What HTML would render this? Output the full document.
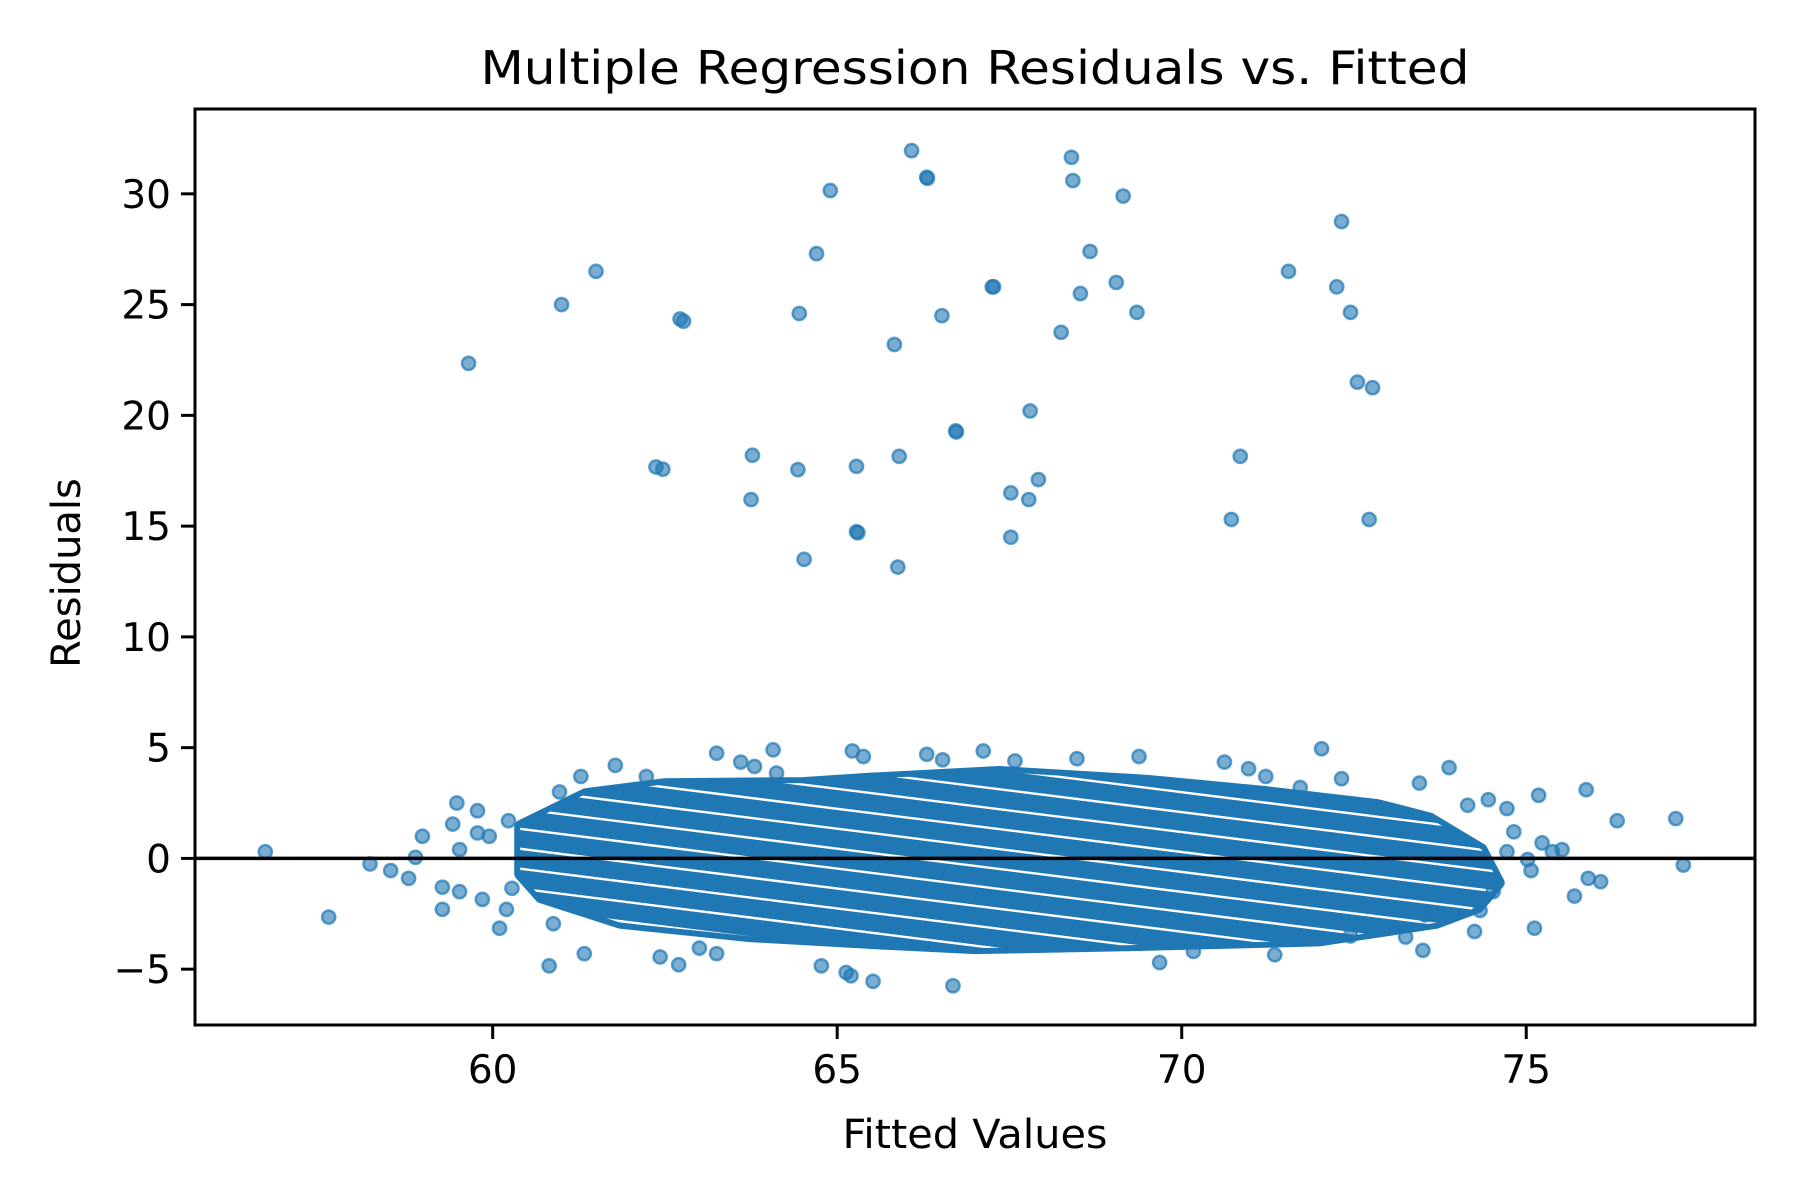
<!DOCTYPE html>
<html><head><meta charset="utf-8"><style>
html,body{margin:0;padding:0;background:#fff;}
svg{display:block;}
text{font-family:"DejaVu Sans","Liberation Sans",sans-serif;fill:#000;}
</style></head><body>
<svg id="chart" width="1800" height="1200" viewBox="0 0 1800 1200" xmlns="http://www.w3.org/2000/svg">
<rect width="1800" height="1200" fill="#fff"/>
<text x="975" y="84" font-size="46" text-anchor="middle" textLength="989" lengthAdjust="spacingAndGlyphs">Multiple Regression Residuals vs. Fitted</text>
<text x="975" y="1148" font-size="40" text-anchor="middle" textLength="265" lengthAdjust="spacingAndGlyphs">Fitted Values</text>
<text x="0" y="0" font-size="40" text-anchor="middle" transform="translate(80,573) rotate(-90)">Residuals</text>
<g id="plot"></g>
<g id="axes"></g>
</svg>
<script>
// ---- data ----
const xTicks = [60, 65, 70, 75];
const yTicks = [-5, 0, 5, 10, 15, 20, 25, 30];
const tickLabelsY = ["\u22125", "0", "5", "10", "15", "20", "25", "30"];
// high outliers (fitted, residual)
const outlierX = [59.65,61.0,61.5,62.72,62.77,62.37,62.47,63.77,63.75,64.45,64.43,64.52,64.7,64.9,65.28,65.28,65.3,65.83,65.88,65.9,66.08,66.3,66.31,66.52,66.72,66.73,67.25,67.27,67.52,67.52,67.78,67.8,67.92,68.25,68.4,68.42,68.53,68.67,69.05,69.15,69.35,70.72,70.85,71.55,72.25,72.32,72.45,72.55,72.77,72.72];
const outlierY = [22.35,25.0,26.5,24.35,24.25,17.67,17.57,18.2,16.2,24.6,17.55,13.5,27.3,30.15,17.7,14.75,14.7,23.2,13.15,18.15,31.95,30.75,30.7,24.5,19.3,19.25,25.8,25.8,16.5,14.5,16.2,20.2,17.1,23.75,31.65,30.6,25.5,27.4,26.0,29.9,24.65,15.3,18.15,26.5,25.8,28.75,24.65,21.5,21.25,15.3];
// scattered points around the main cloud
const edgeX = [56.7,57.62,58.22,58.52,58.78,58.88,58.98,59.27,59.27,59.48,59.42,59.52,59.52,59.78,59.78,59.85,59.95,60.1,60.2,60.28,60.23,60.82,60.88,60.97,61.33,61.28,61.78,62.23,62.43,62.7,63.0,63.25,63.25,63.6,63.8,64.07,64.12,64.77,65.13,65.2,65.22,65.38,65.52,66.3,66.53,66.68,67.12,67.58,68.48,69.38,69.68,70.17,70.62,70.97,71.22,71.35,71.72,72.03,72.32,72.45,73.25,73.5,73.53,73.45,73.88,74.15,74.33,74.25,74.45,74.52,74.72,74.82,74.72,75.12,75.18,75.23,75.38,75.52,75.87,75.9,76.08,75.7,76.32,77.17,77.28,75.02,75.07];
const edgeY = [0.3,-2.65,-0.25,-0.55,-0.9,0.05,1.0,-1.3,-2.3,2.5,1.55,0.4,-1.5,2.15,1.15,-1.85,1.0,-3.15,-2.3,-1.35,1.7,-4.85,-2.95,3.0,-4.3,3.7,4.2,3.7,-4.45,-4.8,-4.05,-4.3,4.75,4.35,4.15,4.9,3.85,-4.85,-5.15,-5.3,4.85,4.6,-5.55,4.7,4.45,-5.75,4.85,4.4,4.5,4.6,-4.7,-4.2,4.35,4.05,3.7,-4.35,3.2,4.95,3.6,-3.5,-3.55,-4.15,-2.55,3.4,4.1,2.4,-2.35,-3.3,2.65,-1.5,2.25,1.2,0.3,-3.15,2.85,0.7,0.3,0.4,3.1,-0.9,-1.05,-1.7,1.7,1.8,-0.3,-0.05,-0.55];
// outline of the dense band of points (fitted, residual)
const cloudX = [60.4,61.35,62.5,64.5,65.5,67.35,69.5,71.2,72.85,73.6,74.35,74.6,74.3,73.7,72.0,69.5,67.0,65.7,63.7,61.85,60.7,60.4];
const cloudY = [1.45,2.9,3.35,3.4,3.6,3.9,3.5,3.0,2.4,1.8,0.4,-1.1,-2.2,-2.9,-3.7,-3.9,-4.05,-3.85,-3.5,-2.9,-1.75,-0.7];
// white gaps between diagonal stripes: residual at fitted = 67
const gapOffsets = [-10.24,-9.34,-8.44,-7.54,-6.64,-5.74,-4.84,-3.94,-3.04,-2.14,-1.24,-0.34,0.56,1.46,2.36,3.26,4.16,5.06,5.96,6.86,7.76,8.66,9.56];
const gapSlope = -0.39;

// ---- scales ----
const X0=195, X1=1755, Y0=109, Y1=1025;
const xMin=55.68, xMax=78.32, yMin=-7.52, yMax=33.83;
const sx = v => X0 + (v - xMin) / (xMax - xMin) * (X1 - X0);
const sy = v => Y1 - (v - yMin) / (yMax - yMin) * (Y1 - Y0);
const NS = "http://www.w3.org/2000/svg";
const mk = (tag, attrs, parent) => { const e = document.createElementNS(NS, tag); for (const k in attrs) e.setAttribute(k, attrs[k]); parent.appendChild(e); return e; };
const plot = document.getElementById('plot');
const axes = document.getElementById('axes');
const C = "#1f77b4";

// dense cloud
const defs = mk('defs', {}, plot);
const cp = mk('clipPath', {id:'cloudclip'}, defs);
const pts = cloudX.map((x,i)=>sx(x)+','+sy(cloudY[i])).join(' ');
mk('polygon', {points: pts}, cp);
const cloud = mk('polygon', {points: pts, fill: C, stroke: C, 'stroke-width': 12, 'stroke-linejoin':'round'}, plot);


const gg = mk('g', {'clip-path':'url(#cloudclip)'}, plot);
gapOffsets.forEach(c => {
  const xa = 55, xb = 79;
  const ln = mk('line', {x1: sx(xa), y1: sy(c + gapSlope*(xa-67)), x2: sx(xb), y2: sy(c + gapSlope*(xb-67)), stroke:'#fff', 'stroke-width': 2.4}, gg);
  
  
});

function dot(x, y, name) {
  const c = mk('circle', {cx: sx(x), cy: sy(y), r: 6.6, fill: C, 'fill-opacity': 0.6, stroke: C, 'stroke-opacity': 0.7, 'stroke-width': 2.5}, plot);
  
  
}
edgeX.forEach((x,i)=>dot(x, edgeY[i], 'residual-point'));
outlierX.forEach((x,i)=>dot(x, outlierY[i], 'outlier-point'));

// zero line
const zl = mk('line', {x1: X0, x2: X1, y1: sy(0), y2: sy(0), stroke:'#000', 'stroke-width': 3.5}, axes);



// frame
const fr = mk('rect', {x: X0, y: Y0, width: X1-X0, height: Y1-Y0, fill:'none', stroke:'#000', 'stroke-width': 3}, axes);



xTicks.forEach(v => {
  const t = mk('line', {x1: sx(v), x2: sx(v), y1: Y1, y2: Y1+14, stroke:'#000', 'stroke-width': 3}, axes);
  
  
  const l = mk('text', {x: sx(v), y: Y1+58, 'font-size': 39, 'text-anchor':'middle'}, axes);
  l.textContent = String(v);
  
  
});
yTicks.forEach((v,i) => {
  const t = mk('line', {x1: X0-14, x2: X0, y1: sy(v), y2: sy(v), stroke:'#000', 'stroke-width': 3}, axes);
  
  
  const l = mk('text', {x: X0-24, y: sy(v)+14, 'font-size': 39, 'text-anchor':'end'}, axes);
  l.textContent = tickLabelsY[i];
  
  
});
</script>
</body></html>
